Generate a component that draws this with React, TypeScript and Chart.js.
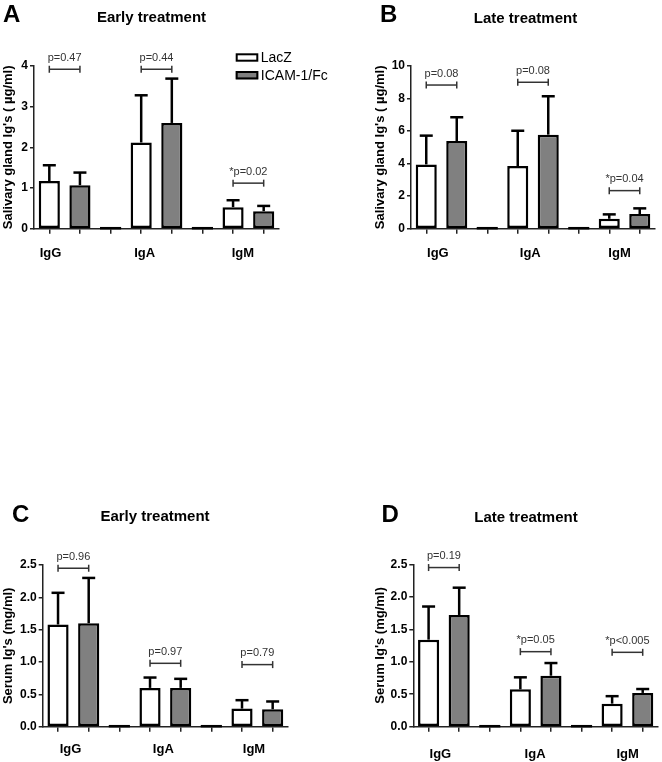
import React, { useEffect, useRef } from 'react';
import { Chart, registerables } from 'chart.js';

Chart.register(...registerables);

const FONT = "'Liberation Sans', Arial, Helvetica, sans-serif";

// ---------- shared categories ----------
const groups = ['IgG', 'IgA', 'IgM'];
const slotKeys = ['IgG LacZ', 'IgG ICAM-1/Fc', 'gap 1', 'IgA LacZ', 'IgA ICAM-1/Fc', 'gap 2', 'IgM LacZ', 'IgM ICAM-1/Fc'];
const seriesNames = ['LacZ', 'ICAM-1/Fc'];

// ---------- Panel A: salivary gland, early treatment (µg/ml) ----------
const aTicks = [0, 1, 2, 3, 4];
const aLacZ = [1.17, 2.12, 0.53];
const aLacZSd = [0.39, 1.16, 0.17];
const aIcam = [1.07, 2.6, 0.43];
const aIcamSd = [0.31, 1.09, 0.13];
const aPText = ['p=0.47', 'p=0.44', '*p=0.02'];
const aPLevel = [3.92, 3.92, 1.12];

// ---------- Panel B: salivary gland, late treatment (µg/ml) ----------
const bTicks = [0, 2, 4, 6, 8, 10];
const bLacZ = [3.95, 3.85, 0.61];
const bLacZSd = [1.77, 2.17, 0.27];
const bIcam = [5.39, 5.78, 0.9];
const bIcamSd = [1.46, 2.36, 0.35];
const bPText = ['p=0.08', 'p=0.08', '*p=0.04'];
const bPLevel = [8.83, 9.0, 2.34];

// ---------- Panel C: serum, early treatment (mg/ml) ----------
const cTicks = [0, 0.5, 1, 1.5, 2, 2.5];
const cLacZ = [1.58, 0.6, 0.28];
const cLacZSd = [0.49, 0.16, 0.13];
const cIcam = [1.6, 0.6, 0.27];
const cIcamSd = [0.7, 0.14, 0.12];
const cPText = ['p=0.96', 'p=0.97', 'p=0.79'];
const cPLevel = [2.45, 0.98, 0.96];

// ---------- Panel D: serum, late treatment (mg/ml) ----------
const dTicks = [0, 0.5, 1, 1.5, 2, 2.5];
const dLacZ = [1.34, 0.575, 0.355];
const dLacZSd = [0.51, 0.185, 0.115];
const dIcam = [1.72, 0.785, 0.52];
const dIcamSd = [0.42, 0.195, 0.06];
const dPText = ['p=0.19', '*p=0.05', '*p<0.005'];
const dPLevel = [2.45, 1.155, 1.145];

const COLORS = ['#ffffff', '#808080'];
const AXIS = '#222222';

type Panel = {
  letter: string;
  title: string;
  yTitle: string;
  ticks: number[];
  decimals: number;
  lacz: number[];
  laczSd: number[];
  icam: number[];
  icamSd: number[];
  pText: string[];
  pLevel: number[];
  legend: boolean;
  box: {
    left: number; top: number; w: number; h: number;
    axisW: number; padTop: number; padRight: number; xAxisH: number;
    letterX: number; letterBase: number; titleX: number; titleBase: number;
    yTitlePad: number; labelOff: number[]; labelDy: number;
  };
};

const panels: Panel[] = [
  {
    letter: 'A', title: 'Early treatment', yTitle: "Salivary gland Ig's ( µg/ml)", ticks: aTicks, decimals: 0,
    lacz: aLacZ, laczSd: aLacZSd, icam: aIcam, icamSd: aIcamSd, pText: aPText, pLevel: aPLevel, legend: true,
    box: { left: 0, top: 0, w: 331, h: 270, axisW: 34, padTop: 66, padRight: 52, xAxisH: 41.3,
      letterX: 3, letterBase: 22, titleX: 151.5, titleBase: 22.4, yTitlePad: 0.5, labelOff: [1.2, 3.5, 9.8], labelDy: 24.3 },
  },
  {
    letter: 'B', title: 'Late treatment', yTitle: "Salivary gland Ig's ( µg/ml)", ticks: bTicks, decimals: 0,
    lacz: bLacZ, laczSd: bLacZSd, icam: bIcam, icamSd: bIcamSd, pText: bPText, pLevel: bPLevel, legend: false,
    box: { left: 372, top: 0, w: 290, h: 270, axisW: 39, padTop: 66, padRight: 7, xAxisH: 41.3,
      letterX: 8, letterBase: 22, titleX: 153.5, titleBase: 23.3, yTitlePad: 0.2, labelOff: [11.6, 12.5, 10.3], labelDy: 24.3 },
  },
  {
    letter: 'C', title: 'Early treatment', yTitle: "Serum Ig's (mg/ml)", ticks: cTicks, decimals: 1,
    lacz: cLacZ, laczSd: cLacZSd, icam: cIcam, icamSd: cIcamSd, pText: cPText, pLevel: cPLevel, legend: false,
    box: { left: 0, top: 500, w: 331, h: 262, axisW: 42.7, padTop: 65, padRight: 43, xAxisH: 35.3,
      letterX: 12, letterBase: 22, titleX: 155, titleBase: 20.7, yTitlePad: 0.5, labelOff: [12.5, 13.3, 12], labelDy: 22.3 },
  },
  {
    letter: 'D', title: 'Late treatment', yTitle: "Serum Ig's (mg/ml)", ticks: dTicks, decimals: 1,
    lacz: dLacZ, laczSd: dLacZSd, icam: dIcam, icamSd: dIcamSd, pText: dPText, pLevel: dPLevel, legend: false,
    box: { left: 372, top: 500, w: 290, h: 262, axisW: 41.3, padTop: 64.3, padRight: 4, xAxisH: 35.3,
      letterX: 9.5, letterBase: 22, titleX: 154, titleBase: 21.7, yTitlePad: 0.2, labelOff: [11.8, 14.7, 15.5], labelDy: 27.3 },
  },
];

function spread(values: number[], series: number): (number | null)[] {
  return slotKeys.map((_, i) => {
    const g = Math.floor(i / 3);
    return i % 3 === series ? values[g] : null;
  });
}

function line(ctx: CanvasRenderingContext2D, x1: number, y1: number, x2: number, y2: number) {
  ctx.beginPath();
  ctx.moveTo(x1, y1);
  ctx.lineTo(x2, y2);
  ctx.stroke();
}

function makePlugin(p: Panel) {
  return {
    id: 'decor' + p.letter,
    afterDatasetsDraw(chart: any) {
      const ctx: CanvasRenderingContext2D = chart.ctx;
      const xs = chart.scales.x;
      const ys = chart.scales.y;
      const y0 = ys.getPixelForValue(0);
      const barW = chart.getDatasetMeta(0).data[0].width;
      ctx.save();
      ctx.lineCap = 'butt';
      // empty separator slots drawn as zero-height bars
      ctx.strokeStyle = '#000';
      ctx.lineWidth = 2.5;
      slotKeys.forEach((_, i) => {
        if (i % 3 === 2) {
          const cx = xs.getPixelForValue(i);
          line(ctx, cx - barW / 2, y0 - 0.5, cx + barW / 2, y0 - 0.5);
        }
      });
      // error bars (mean + SD, upward only)
      const means = [p.lacz, p.icam];
      const sds = [p.laczSd, p.icamSd];
      [0, 1].forEach((di) => {
        const meta = chart.getDatasetMeta(di);
        groups.forEach((_, gi) => {
          const idx = gi * 3 + di;
          const el = meta.data[idx];
          const top = ys.getPixelForValue(means[di][gi] + sds[di][gi]);
          ctx.lineWidth = 2.5;
          ctx.strokeStyle = '#000';
          line(ctx, el.x, el.y, el.x, top);
          line(ctx, el.x - 6.5, top, el.x + 6.5, top);
        });
      });
      // significance brackets
      ctx.strokeStyle = '#333';
      ctx.fillStyle = '#333';
      ctx.lineWidth = 1.5;
      ctx.font = `11px ${FONT}`;
      ctx.textAlign = 'center';
      ctx.textBaseline = 'alphabetic';
      groups.forEach((_, gi) => {
        const x1 = xs.getPixelForValue(gi * 3);
        const x2 = xs.getPixelForValue(gi * 3 + 1);
        const yb = ys.getPixelForValue(p.pLevel[gi]);
        line(ctx, x1, yb, x2, yb);
        line(ctx, x1, yb - 3.5, x1, yb + 3.5);
        line(ctx, x2, yb - 3.5, x2, yb + 3.5);
        ctx.fillText(p.pText[gi], (x1 + x2) / 2, yb - 8.5);
      });
      ctx.restore();
    },
    afterDraw(chart: any) {
      const ctx: CanvasRenderingContext2D = chart.ctx;
      const xs = chart.scales.x;
      const b = p.box;
      ctx.save();
      ctx.fillStyle = '#000';
      ctx.textBaseline = 'alphabetic';
      // panel letter
      ctx.font = `bold 24px ${FONT}`;
      ctx.textAlign = 'left';
      ctx.fillText(p.letter, b.letterX, b.letterBase);
      // panel title
      ctx.font = `bold 15px ${FONT}`;
      ctx.textAlign = 'center';
      ctx.fillText(p.title, b.titleX, b.titleBase);
      // group labels
      ctx.font = `bold 13px ${FONT}`;
      ctx.textBaseline = 'middle';
      const yb = chart.chartArea.bottom + b.labelDy;
      groups.forEach((g, gi) => {
        ctx.fillText(g, xs.getPixelForValue(gi * 3) + b.labelOff[gi], yb);
      });
      // legend
      if (p.legend) {
        ctx.font = `14px ${FONT}`;
        ctx.textAlign = 'left';
        ctx.textBaseline = 'middle';
        chart.data.datasets.forEach((ds: any, i: number) => {
          const bx = 235.7;
          const by = i === 0 ? 53.3 : 71;
          const bw = 22.6;
          const bh = 8.4;
          ctx.fillStyle = ds.backgroundColor;
          ctx.fillRect(bx, by, bw, bh);
          ctx.strokeStyle = '#000';
          ctx.lineWidth = 2;
          ctx.strokeRect(bx + 1, by + 1, bw - 2, bh - 2);
          ctx.fillStyle = '#000';
          ctx.fillText(ds.label, bx + bw + 2.5, by + bh / 2 + 0.5);
        });
      }
      ctx.restore();
    },
  };
}

function buildChart(canvas: HTMLCanvasElement, p: Panel) {
  const b = p.box;
  const maxV = p.ticks[p.ticks.length - 1];
  return new Chart(canvas, {
    type: 'bar',
    data: {
      labels: slotKeys,
      datasets: [
        {
          label: seriesNames[0],
          data: spread(p.lacz, 0),
          backgroundColor: COLORS[0],
          borderColor: '#000',
          borderWidth: 2.5,
          borderSkipped: false,
        },
        {
          label: seriesNames[1],
          data: spread(p.icam, 1),
          backgroundColor: COLORS[1],
          borderColor: '#000',
          borderWidth: 2.5,
          borderSkipped: false,
        },
      ],
    },
    options: {
      animation: false,
      responsive: false,
      devicePixelRatio: 1,
      events: [],
      skipNull: true,
      barPercentage: 0.69,
      categoryPercentage: 1,
      layout: { padding: { left: 0, top: b.padTop, right: b.padRight, bottom: 0 } },
      plugins: {
        legend: { display: false },
        tooltip: { enabled: false },
        title: { display: false },
      },
      scales: {
        x: {
          type: 'category',
          offset: true,
          grid: {
            display: true,
            offset: false,
            drawOnChartArea: false,
            drawTicks: true,
            tickLength: 5,
            color: AXIS,
            lineWidth: 1.5,
          },
          border: { display: true, color: AXIS, width: 1.5 },
          ticks: { autoSkip: false, maxRotation: 0, callback: () => '', padding: 0 },
          afterFit: (scale: any) => { scale.height = b.xAxisH; },
        },
        y: {
          min: 0,
          max: maxV,
          afterBuildTicks: (scale: any) => { scale.ticks = p.ticks.map((v) => ({ value: v })); },
          grid: {
            display: true,
            drawOnChartArea: false,
            drawTicks: true,
            tickLength: 4,
            color: AXIS,
            lineWidth: 1.5,
          },
          border: { display: true, color: AXIS, width: 1.5 },
          ticks: {
            padding: 2,
            color: '#000',
            font: { family: FONT, size: 12, weight: 'bold' },
            callback: (v: any) => Number(v).toFixed(p.decimals),
          },
          title: {
            display: true,
            text: p.yTitle,
            color: '#000',
            font: { family: FONT, size: 13, weight: 'bold' },
            padding: { top: b.yTitlePad, bottom: 0 },
          },
          afterFit: (scale: any) => { scale.width = b.axisW; },
        },
      },
    } as any,
    plugins: [makePlugin(p)],
  });
}

export default function App() {
  const refs = useRef<(HTMLCanvasElement | null)[]>([]);
  useEffect(() => {
    Chart.defaults.font.family = FONT;
    const charts = panels.map((p, i) => buildChart(refs.current[i] as HTMLCanvasElement, p));
    return () => charts.forEach((c) => c.destroy());
  }, []);
  return (
    <div style={{ position: 'absolute', left: 0, top: 0, width: 662, height: 762, background: '#fff', overflow: 'hidden' }}>
      {panels.map((p, i) => (
        <canvas
          key={p.letter}
          ref={(el) => { refs.current[i] = el; }}
          width={p.box.w}
          height={p.box.h}
          style={{ position: 'absolute', left: p.box.left, top: p.box.top, width: p.box.w, height: p.box.h }}
        />
      ))}
    </div>
  );
}
